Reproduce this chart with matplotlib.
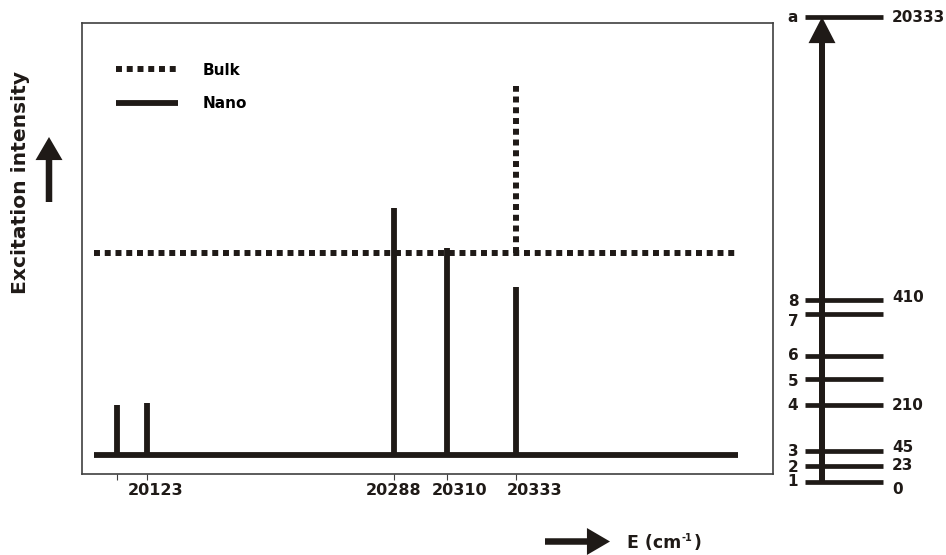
import numpy as np
import matplotlib
matplotlib.use("Agg")
import matplotlib.pyplot as plt
from matplotlib.lines import Line2D
from matplotlib.patches import FancyArrowPatch
from matplotlib.text import Annotation
from matplotlib.transforms import ScaledTranslation

# ---- data ----
nano_x = [20103, 20123, 20288, 20310, 20333]      # peak positions, cm^-1
nano_y = [50, 52, 247, 207, 168]                  # nano intensities (arb. units)
bulk_level = 202                                  # flat bulk signal
bulk_peak_x = 20333
bulk_peak_y = 369
span = [20088, 20408]                             # extent of the traces

tick_values = [20103, 20123, 20288, 20310, 20333]
tick_labels = ["", "20123", "20288", "20310", "20333"]
tick_shift_px = [0, 9, 0, 13, 19]

level_names = ["1", "2", "3", "4", "5", "6", "7", "8", "a"]
level_height = [0, 16, 31, 77, 103, 126, 168, 182, 465]   # schematic
level_energy = ["0", "23", "45", "210", "", "", "", "410", "20333"]
name_shift = [0, -2, -1, 0, -3, 0, -7, -1, -1]
energy_shift = [-8, 0, 4, 0, 0, 0, 0, 3, -1]

INK = "#1f1a17"
DOTS = (0, (1, 0.8))

# the energy axis of the original is not linear: piecewise mapping
anchor_wn = [20080, 20103, 20123, 20288, 20310, 20333, 20420]
anchor_pos = [0.0, 35, 65, 312, 365, 434, 691]
anchor_pos = [p / 691 for p in anchor_pos]


def fwd(x):
    return np.interp(x, anchor_wn, anchor_pos)


def inv(p):
    return np.interp(p, anchor_pos, anchor_wn)


fig = plt.figure(figsize=(9.46, 5.55), dpi=100)
W, H = 946, 555

# main spectrum panel
ax = fig.add_axes([82 / W, 1 - 474 / H, 691 / W, 451 / H])
ax.set_xscale("function", functions=(fwd, inv))
ax.set_xlim(20080, 20420)
ax.set_ylim(-19, 432)

ax.hlines(0, span[0], span[1], color=INK, lw=4.2)
ax.vlines(nano_x, 0, nano_y, color=INK, lw=4.2)
ax.hlines(bulk_level, span[0], span[1], color=INK, lw=4.3, linestyles=[DOTS])
ax.vlines(bulk_peak_x, bulk_level, bulk_peak_y, color=INK, lw=4.3, linestyles=[DOTS])

ax.set_yticks([])
ax.set_xticks(tick_values)
ax.set_xticklabels(tick_labels, fontsize=11.5, fontweight="bold", color=INK)
ax.xaxis.set_minor_locator(matplotlib.ticker.NullLocator())
ax.tick_params(axis="x", length=4.3, width=0.8, color="#404040", pad=2)
for lab, dx in zip(ax.get_xticklabels(), tick_shift_px):
    lab.set_transform(lab.get_transform() + ScaledTranslation(dx / 100, 0, fig.dpi_scale_trans))
for s in ax.spines.values():
    s.set_linewidth(1.2)
    s.set_color("#404040")

handles = [
    Line2D([], [], color=INK, lw=4.3, linestyle=DOTS, dash_capstyle="butt"),
    Line2D([], [], color=INK, lw=4.2, solid_capstyle="butt"),
]
ax.legend(handles, ["Bulk", "Nano"], loc="upper left", bbox_to_anchor=(34 / 691, 0.912),
          frameon=False, prop={"size": 11, "weight": "bold"}, handlelength=4.05,
          handletextpad=1.65, labelspacing=1.2, borderpad=0, borderaxespad=0)

# axis captions with arrows
fig.text(21 / W, 1 - 182 / H, "Excitation intensity", rotation=90, ha="center", va="center",
         fontweight="bold", fontsize=14.6, color=INK)
e_main = fig.text(627 / W, 1 - 543 / H, "E (cm", ha="left", va="center",
                  fontsize=12.5, fontweight="bold", color=INK)
e_sup = fig.add_artist(Annotation(
    "-1", xy=(1, 0.78), xycoords=e_main, xytext=(0.5, 0), textcoords="offset points",
    ha="left", va="center", fontsize=7, fontweight="bold", color=INK))
fig.add_artist(Annotation(
    ")", xy=(1, 0.5), xycoords=(e_sup, e_main), xytext=(0.5, 0), textcoords="offset points",
    ha="left", va="center", fontsize=12.5, fontweight="bold", color=INK))

arrow_kw = dict(arrowstyle="simple,head_length=0.83,head_width=0.97,tail_width=0.234",
                fc=INK, ec="none", lw=0, shrinkA=0, shrinkB=0, mutation_scale=20)
fig.add_artist(FancyArrowPatch((49, H - 202), (49, H - 137), transform=None, **arrow_kw))
fig.add_artist(FancyArrowPatch((545, H - 541.5), (610, H - 541.5), transform=None, **arrow_kw))

# energy level diagram
lv = fig.add_axes([805 / W, 1 - 482 / H, 78 / W, 465 / H])
lv.set_xlim(0, 1)
lv.set_ylim(0, 465)
lv.axis("off")
lv.hlines(level_height, 0, 1, color=INK, lw=3.4, clip_on=False)
lv.annotate("", xy=(0.218, level_height[-1]), xytext=(0.218, level_height[0]),
            arrowprops=dict(arrowstyle="simple,head_length=0.94,head_width=0.97,tail_width=0.216",
                            fc=INK, ec="none", lw=0, shrinkA=0, shrinkB=0, mutation_scale=20))
for h, name, e, dn, de in zip(level_height, level_names, level_energy, name_shift, energy_shift):
    lv.text(-0.154, h + dn, name, ha="center", va="center", fontsize=11,
            fontweight="bold", color=INK, clip_on=False)
    if e:
        lv.text(1.115, h + de, e, ha="left", va="center", fontsize=11,
                fontweight="bold", color=INK, clip_on=False)

fig.savefig("out.png", dpi=100)
